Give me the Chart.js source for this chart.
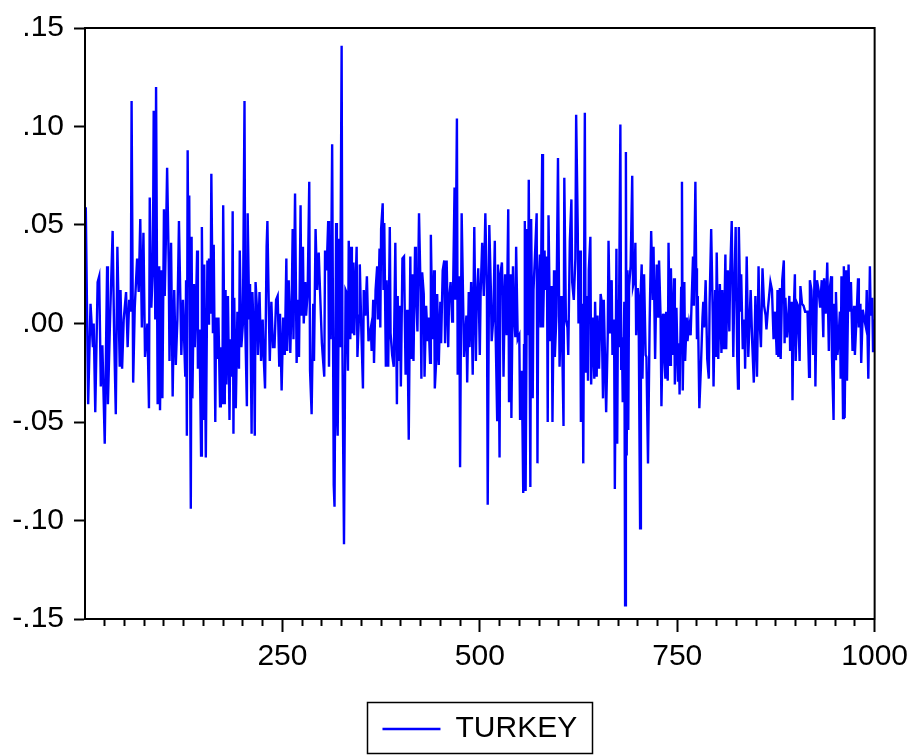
<!DOCTYPE html>
<html>
<head>
<meta charset="utf-8">
<script src="https://cdn.jsdelivr.net/npm/chart.js@4.4.0/dist/chart.umd.min.js"></script>
<style>
html,body{margin:0;padding:0;background:#ffffff;}
#wrap{width:915px;height:756px;}
</style>
</head>
<body>
<div id="wrap"><canvas id="c" width="915" height="756"></canvas></div>
<script>
const seriesName = 'TURKEY';

const obs = [
1,4,7,10,11,13,16,18,20,22,25,28,29,32,35,37,39,41,44,45,47,49,52,54,56,58,59,61,63,66,
68,70,72,74,76,79,81,82,84,86,87,89,90,92,94,95,97,98,100,101,103,104,106,107,109,111,113,115,117,119,
122,124,127,128,129,130,131,132,134,135,136,138,139,141,142,143,145,147,148,150,
151,153,155,156,157,159,160,162,163,165,166,168,169,171,172,174,175,177,178,179,
181,183,184,186,187,188,189,191,193,195,196,198,200,202,203,205,206,208,209,211,
212,214,215,216,218,219,221,223,225,226,228,230,231,233,234,236,238,
240,242,244,246,247,249,251,253,255,256,258,260,262,263,264,266,268,270,271,273,
274,276,277,279,280,282,284,285,287,289,290,292,294,296,297,300,301,303,304,306,
308,309,310,311,313,315,316,318,319,320,322,323,325,326,327,328,330,331,333,334,
336,337,338,340,341,344,345,347,348,350,352,353,355,357,359,
362,363,365,366,368,370,371,373,374,375,377,378,379,381,382,384,386,387,389,391,
393,395,396,397,399,400,402,404,406,408,409,410,412,413,415,416,418,419,421,423,
425,426,427,429,430,432,434,435,437,438,440,442,443,445,446,448,450,451,453,455,
456,458,460,461,463,465,466,468,469,471,472,474,475,477,479,480,
483,484,486,487,489,491,493,495,496,498,500,501,503,505,507,509,510,512,514,515,
517,519,520,522,523,525,526,528,529,530,532,534,536,537,539,540,542,543,545,546,
548,550,551,553,554,555,556,557,558,560,561,562,564,565,567,568,570,572,573,574,
576,577,579,580,582,583,585,586,587,589,591,592,594,595,597,599,
601,603,604,606,607,609,611,612,614,616,617,619,621,622,624,625,627,628,630,631,
633,634,636,637,638,640,641,643,645,646,648,649,651,653,654,656,657,660,662,663,
665,667,668,670,671,673,674,675,676,678,679,680,681,683,684,685,686,687,688,689,
691,693,694,696,697,698,700,701,703,704,705,706,708,710,711,713,715,717,719,720,
722,724,726,727,729,730,732,733,735,736,738,739,741,742,744,746,747,749,751,752,
753,755,756,757,759,760,762,763,765,767,768,770,771,773,774,775,776,778,780,782,
783,784,786,788,790,791,793,795,796,798,799,800,802,804,806,807,809,811,812,814,
816,817,819,821,822,824,826,827,828,830,831,833,835,836,838,840,
843,845,847,849,851,853,854,856,858,860,862,863,865,868,870,872,874,876,877,878,
880,881,883,885,886,887,889,890,892,893,895,896,897,899,900,902,903,905,906,908,
910,912,915,917,918,920,922,924,925,927,929,931,933,935,936,938,940,942,943,945,
946,948,949,950,951,953,954,956,957,958,960,961,962,964,965,967,968,970,972,974,
975,977,979,980,982,983,985,987,989,990,992,994,995,997,998,999,1000
];

const turkey = [
.059,-.041,.010,-.012,0,-.045,.021,.024,-.032,-.011,-.061,.029,-.041,.006,.047,-.008,-.046,.039,-.022,.017,-.023,.002,.016,-.012,.012,.006,.113,-.030,.008,.033,
.016,.053,-.002,.046,-.017,0,-.043,.064,.008,.029,.108,.002,.120,-.041,.029,-.044,.027,-.038,.058,.014,.054,.079,.031,-.019,.041,-.037,.017,-.021,.002,.052,
-.016,.012,-.027,.022,-.057,.088,.019,.065,-.094,.044,-.038,.020,-.012,.017,.037,-.023,-.003,-.067,.049,-.049,
.030,-.068,.032,0,.033,.005,.076,-.005,.040,-.050,.003,-.018,.003,-.042,-.012,-.041,.060,-.041,.017,-.031,
.014,-.049,-.008,-.027,.057,-.056,.013,-.043,.006,-.023,.037,-.012,0,.113,-.002,-.042,.056,.002,.020,-.056,
.016,-.010,-.057,.021,.006,-.016,.016,-.019,.002,-.014,-.033,.039,.052,.002,-.019,.011,-.012,
-.012,.012,.014,-.022,.005,-.034,.003,-.016,.033,-.014,.022,-.015,.017,.048,-.008,.066,-.020,.012,-.017,.060,
.004,.039,0,.021,.004,.016,.072,-.024,-.046,.010,-.019,.048,.017,.036,.024,-.010,-.016,-.027,.037,.027,
.052,-.022,.027,-.008,.091,-.082,-.093,.051,-.043,-.057,.043,-.012,.141,-.012,-.065,-.112,.017,.016,-.024,.042,
-.008,.039,-.005,.031,-.006,.039,-.017,.004,.030,-.004,-.033,.017,.004,.024,-.009,
-.002,-.014,.012,-.020,.017,.029,.002,.038,-.002,.048,.061,.017,.051,-.022,.022,-.022,.049,-.005,-.016,-.022,
.041,-.041,.014,-.019,.009,-.032,.033,.034,-.026,.007,-.025,-.059,.034,-.018,.025,-.019,.039,.021,-.004,.056,
.016,-.028,.026,.015,-.027,.009,-.009,.003,-.020,.045,-.008,.027,-.033,-.017,.015,-.021,.011,-.010,.027,.032,
-.010,.032,-.012,.012,.021,.001,.012,.069,.012,.104,-.026,.024,-.073,.056,.008,-.017,
.004,-.030,.016,-.012,.021,-.026,.049,-.019,.010,.028,-.016,.015,.041,.014,.056,.016,-.092,.050,.017,-.009,
.002,.042,-.004,-.049,.030,-.068,.025,.031,.014,-.027,.025,-.006,.058,-.040,.025,-.048,.029,.008,-.007,.039,
-.008,-.006,-.049,-.024,-.052,-.086,-.011,.052,-.085,.048,-.006,.073,-.083,.053,-.038,.017,.036,.056,-.071,.014,
.035,-.002,.086,-.002,.037,.017,.034,-.050,.055,-.009,.019,-.050,.027,-.017,.004,.084,
-.022,.014,-.002,-.052,.074,.002,-.002,-.016,.042,.063,.021,.012,.033,.106,.049,0,.037,-.050,.010,-.071,
.107,-.025,.014,-.029,.027,.044,-.031,.003,-.028,.011,-.027,.004,-.023,.015,.012,-.038,.012,-.045,-.006,.042,
-.005,.022,-.016,.002,-.084,.038,-.061,.012,-.012,.101,-.023,-.007,-.040,.011,-.143,.087,-.067,.027,-.054,.019,
.029,.075,.019,.023,.041,-.006,.018,.014,-.104,.019,.030,-.028,.025,-.016,-.017,-.071,-.002,.047,.012,.039,
-.018,.030,.003,.032,.002,-.042,.005,-.012,-.028,.006,-.029,.041,-.021,.028,-.016,.023,-.031,.008,-.029,-.010,
-.036,.018,.072,-.034,.021,-.019,.003,-.009,0,-.006,.008,.034,.009,.072,.028,-.008,.014,-.043,-.022,.003,
.011,-.002,.022,-.018,-.028,.010,.048,.004,-.032,.017,-.017,.036,-.018,.020,-.015,.017,-.013,.035,-.013,.027,
-.004,.024,.052,-.017,.010,.049,-.017,-.033,.049,.006,.025,-.013,.002,-.023,.034,-.017,
.017,-.010,-.030,.014,-.027,.029,.004,-.012,.028,.009,.004,-.003,.008,.021,.017,-.008,.006,-.016,.017,-.017,
.018,-.018,.022,.032,-.010,.013,-.007,-.002,.014,-.014,.011,-.039,-.002,.025,-.019,.010,.009,-.019,.019,.010,
.009,.006,.006,-.027,.022,.017,-.016,.027,-.032,.022,.017,.008,.022,-.007,.023,.005,.031,-.014,.017,.024,
-.017,-.049,.010,-.018,.016,-.016,-.010,.006,-.028,.024,-.048,.029,-.048,.027,-.029,.030,.006,.021,-.014,.009,
-.016,.002,.023,-.002,.010,-.020,.007,.002,-.002,.017,-.028,.029,.004,.013,-.014,.002,-.002
];

const xTickValues = [250, 500, 750, 1000];
const xMinorStep = 25;
const yTickValues = [-0.15, -0.10, -0.05, 0, 0.05, 0.10, 0.15];
const yTickLabels = ['-.15', '-.10', '-.05', '.00', '.05', '.10', '.15'];

const FONT = {family: "'Liberation Sans', Arial, sans-serif", size: 30};

const framePlugin = {
  id: 'frame',
  afterDraw(chart) {
    const {ctx, chartArea: a} = chart;
    ctx.save();
    ctx.strokeStyle = '#000';
    ctx.lineWidth = 2;
    ctx.strokeRect(a.left, a.top, a.right - a.left, a.bottom - a.top);
    const lg = chart.legend;
    if (lg && lg.legendHitBoxes && lg.legendHitBoxes.length) {
      const hb = lg.legendHitBoxes[0];
      ctx.lineWidth = 1.5;
      ctx.strokeRect(Math.round(hb.left - 15) + 0.5, Math.round(lg.top - 2) + 0.5, Math.round(hb.width + 30), 51);
    }
    ctx.restore();
  }
};

const chart = new Chart(document.getElementById('c'), {
  type: 'line',
  data: {
    datasets: [{
      label: seriesName,
      data: obs.map((x, i) => ({x: x, y: turkey[i]})),
      borderColor: '#0000ff',
      backgroundColor: '#0000ff',
      borderWidth: 2.4,
      pointRadius: 0,
      pointStyle: 'line',
      tension: 0,
      fill: false
    }]
  },
  options: {
    responsive: false,
    animation: false,
    devicePixelRatio: 1,
    layout: {padding: {left: 0, right: 40, top: 25, bottom: 2}},
    plugins: {
      tooltip: {enabled: false},
      legend: {
        display: true,
        position: 'bottom',
        fullSize: false,
        labels: {
          usePointStyle: true,
          pointStyle: 'line',
          pointStyleWidth: 58,
          padding: 10,
          color: '#000',
          font: FONT
        }
      }
    },
    scales: {
      x: {
        type: 'linear',
        position: 'bottom',
        min: 0,
        max: 1000,
        afterBuildTicks: s => { s.ticks = xTickValues.map(v => ({value: v})); },
        afterFit: s => { s.height = 85; },
        ticks: {
          color: '#000',
          font: FONT,
          padding: 7,
          maxRotation: 0,
          autoSkip: false,
          callback: v => String(v)
        },
        grid: {drawOnChartArea: false, drawTicks: true, tickLength: 13, tickWidth: 2, tickColor: '#000'},
        border: {display: true, color: '#000', width: 2}
      },
      xMinor: {
        type: 'linear',
        axis: 'x',
        position: {y: -0.15},
        min: 0,
        max: 1000,
        afterBuildTicks: s => {
          const t = [];
          for (let v = xMinorStep; v < 1000; v += xMinorStep) {
            if (!xTickValues.includes(v)) t.push({value: v});
          }
          s.ticks = t;
        },
        ticks: {display: false},
        grid: {drawOnChartArea: false, drawTicks: true, tickLength: 7, tickWidth: 2, tickColor: '#000'},
        border: {display: false}
      },
      y: {
        type: 'linear',
        position: 'left',
        min: -0.15,
        max: 0.15,
        afterBuildTicks: s => { s.ticks = yTickValues.map(v => ({value: v})); },
        afterFit: s => { s.width = 85; },
        ticks: {
          color: '#000',
          font: FONT,
          padding: 10,
          callback: v => {
            const i = yTickValues.findIndex(t => Math.abs(t - v) < 1e-9);
            return i >= 0 ? yTickLabels[i] : '';
          }
        },
        grid: {drawOnChartArea: false, drawTicks: true, tickLength: 11, tickWidth: 2, tickColor: '#000'},
        border: {display: true, color: '#000', width: 2}
      }
    }
  },
  plugins: [framePlugin]
});
</script>
</body>
</html>
